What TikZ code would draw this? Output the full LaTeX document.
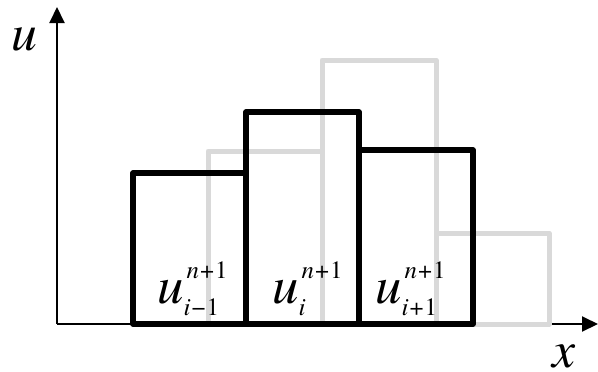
\documentclass[tikz,border=0pt]{standalone}
\usepackage{fontspec}
\setmainfont{TeX Gyre Termes}
\usetikzlibrary{arrows.meta}
\definecolor{oldcell}{RGB}{217,217,217}
\newcommand{\smallsz}{\fontsize{25}{25}\selectfont}
\newcommand{\cellu}[1]{\textit{u}\makebox[0pt][l]{\kern3bp\raisebox{25bp}{\smallsz\textit{n}\kern1bp+\kern1bp1}}\raisebox{-12bp}{\smallsz #1}}
\tikzset{
  axisline/.style={line width=2bp, -{Triangle[length=16bp,width=15bp]}},
  newcell/.style={draw=black, line width=5.5bp, line join=round},
  oldcellbox/.style={draw=oldcell, line width=5bp, line join=round},
  cellname/.style={font=\fontsize{53}{53}\selectfont, inner sep=0pt, anchor=base west},
  axisname/.style={font=\fontsize{52}{52}\selectfont\itshape, inner sep=0pt, anchor=base west}
}
\begin{document}
\begin{tikzpicture}[x=1bp, y=-1bp]
\useasboundingbox (0,0) rectangle (598,371);
\coordinate (origin) at (57,324);
\coordinate (xend) at (598,324);
\coordinate (yend) at (57,7);
\draw[axisline] (origin) -- (xend);
\draw[axisline] (origin) -- (yend);

\foreach \xl/\xr/\yt in {208/322/151, 322/436/60, 436/549/233}
  \draw[oldcellbox] (\xl,324) rectangle (\xr,\yt);
\foreach \xl/\xr/\yt in {133/246/173, 246/359/112, 359/473/150}
  \draw[newcell] (\xl,324) rectangle (\xr,\yt);

\node[cellname] (uleft) at (157,303) {\cellu{\textit{i}\kern1bp−\kern1bp1}};
\node[cellname] (umid) at (272,303) {\cellu{\textit{i}}};
\node[cellname] (uright) at (375,303) {\cellu{\textit{i}\kern1bp+\kern1bp1}};

\node[axisname] (ulabel) at (11,50) {u};
\node[axisname] (xlabel) at (552,367) {x};
\end{tikzpicture}
\end{document}
